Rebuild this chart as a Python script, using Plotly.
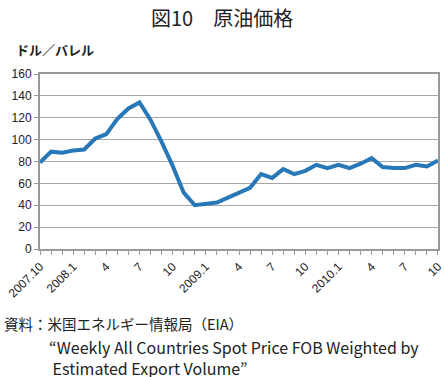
import plotly.graph_objects as go

months = list(range(37))
prices = [79, 89, 88, 90, 91, 101, 105, 119, 128.5, 134, 118, 98, 76, 51.5, 40, 41, 42.5,
          47, 51.5, 56, 68.5, 65, 73, 68.5, 71.5, 77, 74, 77, 74, 78, 83, 75, 74, 74, 77, 75.5, 81]
tick_labels = {0: "2007.10", 3: "2008.1", 6: "4", 9: "7", 12: "10", 15: "2009.1", 18: "4",
               21: "7", 24: "10", 27: "2010.1", 30: "4", 33: "7", 36: "10"}

fig = go.Figure()
fig.add_trace(go.Scatter(x=months, y=prices, mode="lines",
                         line=dict(color="#2878b8", width=4), hoverinfo="skip"))

axis_font = dict(family="Liberation Sans, Arial", size=12, color="#222")
fig.update_layout(
    width=444, height=377,
    margin=dict(l=40, r=6, t=74, b=128),
    paper_bgcolor="white", plot_bgcolor="white",
    showlegend=False,
    xaxis=dict(range=[-0.001, 36.001], tickmode="array", tickvals=months,
               ticktext=[tick_labels.get(m, "") for m in months],
               tickangle=-45, ticks="outside", ticklen=4, tickcolor="#999",
               showgrid=False, showline=True, linecolor="#999", linewidth=2,
               mirror=True, tickfont=axis_font, zeroline=False, automargin=False,
               ticklabeloverflow="allow"),
    yaxis=dict(range=[0, 160], tickvals=list(range(0, 161, 20)),
               ticks="outside", ticklen=4, tickcolor="#999",
               showgrid=True, gridcolor="#a6a6a6", gridwidth=1.3,
               showline=True, linecolor="#999", linewidth=2, mirror=True,
               tickfont=axis_font, zeroline=False, automargin=False),
)

cjk = "Noto Sans CJK JP"

def add_text(text, xpx, ypx, size, anchor="left", weight="normal"):
    plot_w = 444 - 40 - 6
    plot_h = 377 - 74 - 128
    x = (xpx - 40) / plot_w
    y = (377 - 128 - ypx) / plot_h
    fig.add_annotation(text=text, x=x, y=y, xref="paper", yref="paper",
                       xanchor=anchor, yanchor="middle", showarrow=False, align="left",
                       font=dict(family=cjk, size=size, color="#222", weight=weight))

add_text("図10　原油価格", 222, 17, 20, anchor="center")
add_text("ドル／バレル", 14, 50, 13, weight="bold")
add_text("資料：米国エネルギー情報局（EIA）", 2, 323, 14.5)
add_text("“Weekly All Countries Spot Price FOB Weighted by<br> Estimated Export Volume”",
         47, 357, 16)

fig.write_html("out.html", config={"displayModeBar": False},
               post_script="document.body.style.margin='0';document.body.style.overflow='hidden';")
